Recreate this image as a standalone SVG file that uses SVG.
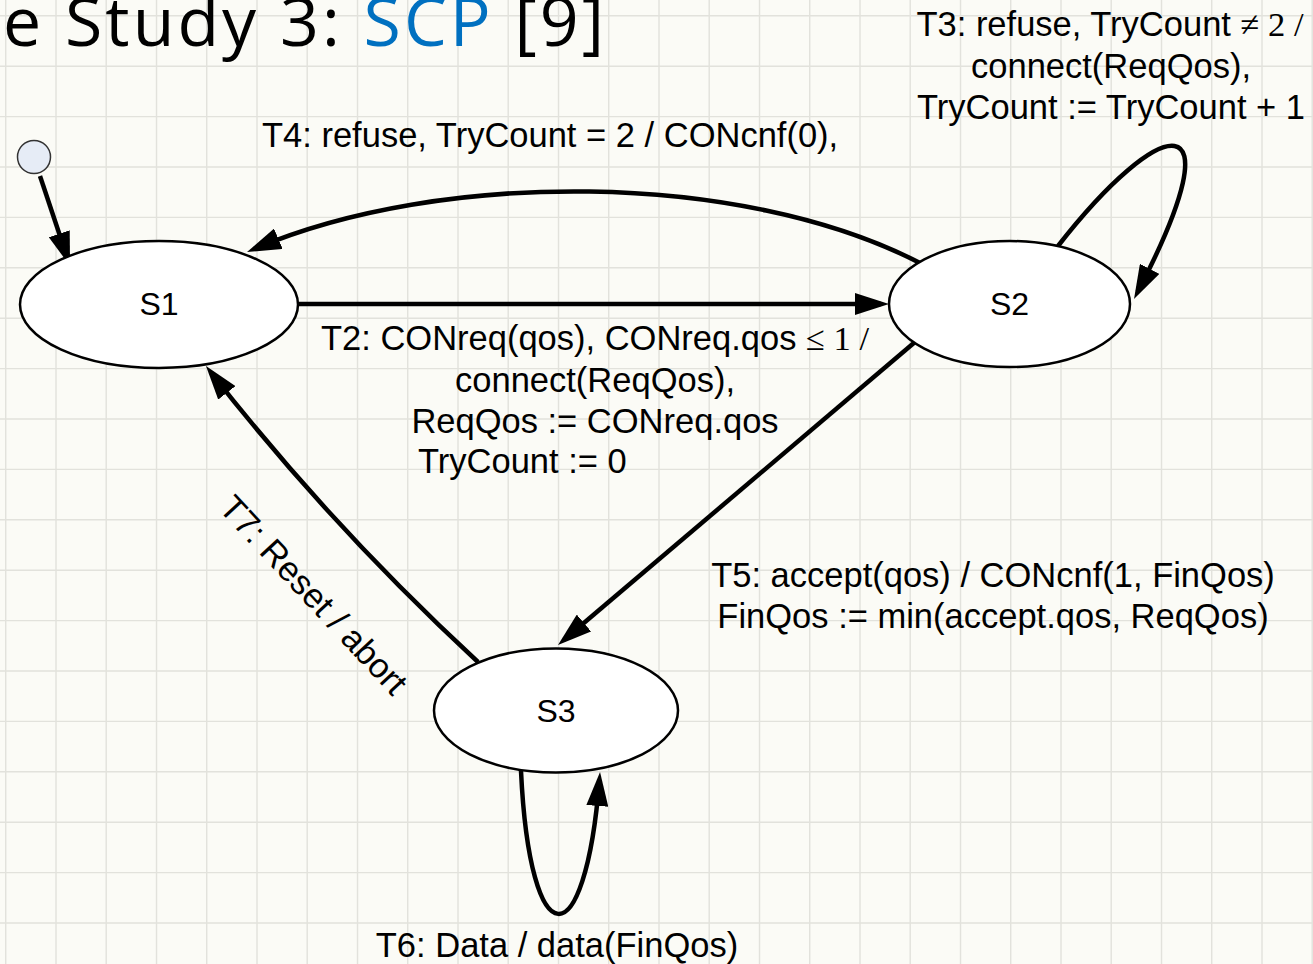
<svg xmlns="http://www.w3.org/2000/svg" width="1313" height="964" viewBox="0 0 1313 964">
<style>
.lbl{font-family:"Liberation Sans",Arial,sans-serif;font-size:34.5px;fill:#000}
.math{font-family:"Liberation Serif","Times New Roman",serif}
.st{font-family:"Liberation Sans",Arial,sans-serif;font-size:32px;fill:#000;text-anchor:middle}
.node{fill:#fff;stroke:#000;stroke-width:2.5}
.edge{fill:none;stroke:#000;stroke-width:4.5;marker-end:url(#ah)}
.grid{stroke:#e2e2dc;stroke-width:1.4;fill:none}
</style>
<defs>
<marker id="ah" markerUnits="userSpaceOnUse" markerWidth="34" markerHeight="22" refX="26" refY="11" orient="auto">
<path d="M0,0 L34,11 L0,22 z" fill="#000"/>
</marker>
</defs>
<rect width="1313" height="964" fill="#fbfbf6"/>
<g id="grid" class="grid">
<path d="M5.7,0V964M56,0V964M106.2,0V964M156.5,0V964M206.7,0V964M257,0V964M307.2,0V964M357.5,0V964M407.7,0V964M458,0V964M508.2,0V964M558.5,0V964M608.7,0V964M659,0V964M709.2,0V964M759.5,0V964M809.7,0V964M860,0V964M910.2,0V964M960.5,0V964M1010.7,0V964M1061,0V964M1111.2,0V964M1161.5,0V964M1211.7,0V964M1262,0V964M1312.2,0V964"/>
<path d="M0,15.8H1313M0,66.2H1313M0,116.6H1313M0,167H1313M0,217.4H1313M0,267.8H1313M0,318.2H1313M0,368.6H1313M0,419H1313M0,469.4H1313M0,519.8H1313M0,570.2H1313M0,620.6H1313M0,671H1313M0,721.4H1313M0,771.8H1313M0,822.2H1313M0,872.6H1313M0,923H1313"/>
</g>
<text id="title" x="3" y="46" font-family="'Open Sans','Noto Sans',sans-serif" font-size="68" fill="#000" textLength="601" lengthAdjust="spacing">e Study 3: <tspan fill="#0070c0">SCP</tspan> [9]</text>
<g id="connectors">
<path class="edge" d="M40,176 L67.5,258.4"/>
<path class="edge" d="M299,304 L881,304"/>
<path class="edge" d="M920,263 C740,170 440,170 254.4,248.9"/>
<path class="edge" d="M1058,246 C1160,115 1240,95 1137.7,291.9"/>
<path class="edge" d="M915,342 L564.1,639.8"/>
<path class="edge" d="M478,662 Q330,525 210.9,372.3"/>
<path class="edge" d="M521,771 C530,960 585,960 599.4,780"/>
</g>
<g id="init"><circle cx="34" cy="157" r="16.5" fill="#e6ecf6" stroke="#333" stroke-width="1.5"/></g>
<g id="S1"><ellipse class="node" cx="159" cy="304.5" rx="139" ry="63.5"/><text class="st" x="159" y="315">S1</text></g>
<g id="S2"><ellipse class="node" cx="1009.5" cy="304" rx="120.5" ry="63"/><text class="st" x="1009.5" y="315">S2</text></g>
<g id="S3"><ellipse class="node" cx="556" cy="710.5" rx="122" ry="62"/><text class="st" x="556" y="722">S3</text></g>
<g id="labels">
<text class="lbl" x="262" y="147">T4: refuse, TryCount = 2 / CONcnf(0),</text>
<text class="lbl" text-anchor="middle"><tspan x="1110" y="36">T3: refuse, TryCount <tspan class="math">≠ 2 /</tspan></tspan><tspan x="1111" y="78">connect(ReqQos),</tspan><tspan x="1111" y="119">TryCount := TryCount + 1</tspan></text>
<text class="lbl" text-anchor="middle"><tspan x="595" y="350">T2: CONreq(qos), CONreq.qos <tspan class="math">≤ 1 /</tspan></tspan><tspan x="595" y="392">connect(ReqQos),</tspan><tspan x="595" y="433">ReqQos := CONreq.qos</tspan></text>
<text class="lbl" x="418" y="473">TryCount := 0</text>
<text class="lbl" text-anchor="middle"><tspan x="993" y="587">T5: accept(qos) / CONcnf(1, FinQos)</tspan><tspan x="993" y="628">FinQos := min(accept.qos, ReqQos)</tspan></text>
<text class="lbl" text-anchor="middle" x="557" y="957">T6: Data / data(FinQos)</text>
<text class="lbl" text-anchor="middle" transform="translate(305,603) rotate(47)">T7: Reset / abort</text>
</g>
</svg>
